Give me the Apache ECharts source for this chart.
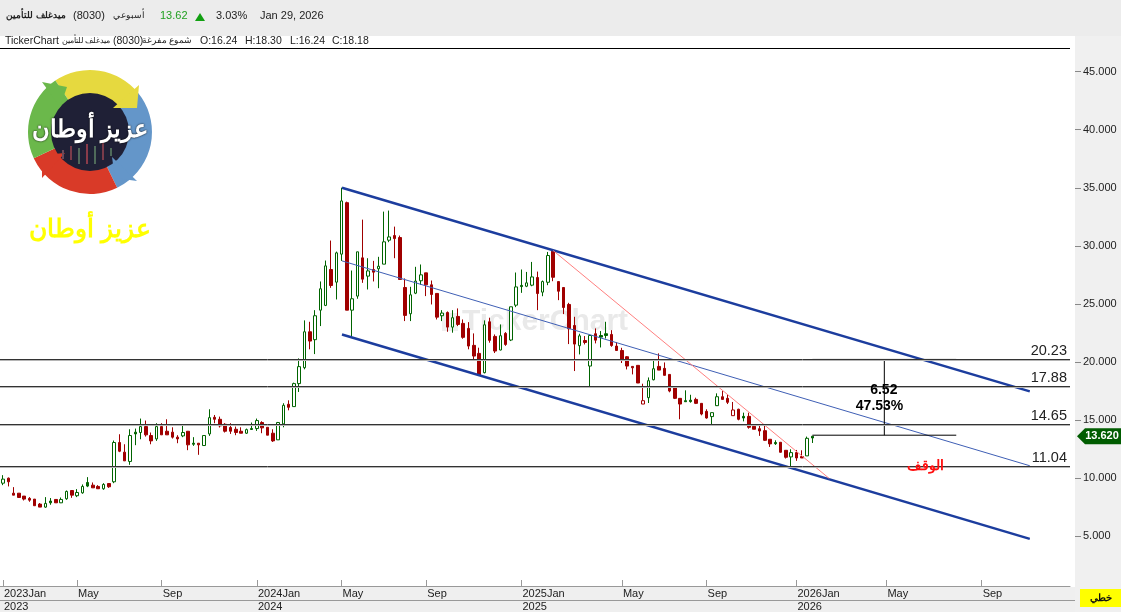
<!DOCTYPE html>
<html>
<head>
<meta charset="utf-8">
<title>8030</title>
<script src="https://cdn.jsdelivr.net/npm/echarts@6/dist/echarts.min.js"></script>
<style>
html,body{margin:0;padding:0;background:#fff;}
#chart{width:1121px;height:612px;}
</style>
</head>
<body>
<div id="chart"></div>
<script>
// weekly candles, one row per trading week: open, close, low, high
var ohlc = [
[9.58,9.93,9.41,10.27],[10.01,9.70,9.30,10.07],[8.72,8.55,8.55,9.24],[8.72,8.35,8.32,8.72],[8.47,8.21,8.09,8.47],
[8.27,8.12,7.98,8.38],[8.21,7.64,7.64,8.21],[7.78,7.52,7.52,7.87],[7.52,7.84,7.46,8.38],[8.04,7.89,7.72,8.30],
[8.18,7.89,7.89,8.18],[7.89,8.18,7.87,8.35],[8.24,8.87,8.15,8.95],[8.95,8.55,8.32,8.95],[8.50,8.78,8.38,9.07],
[8.75,9.30,8.67,9.47],[9.64,9.33,9.24,10.10],[9.41,9.18,9.18,9.64],[9.30,9.10,9.10,9.41],[9.10,9.47,9.01,9.58],
[9.55,9.27,9.18,9.55],[9.70,13.08,9.58,13.25],[13.08,12.33,12.25,13.79],[12.25,11.50,11.50,12.93],[11.45,13.68,11.16,14.22],
[13.97,13.82,12.85,14.28],[13.94,14.45,13.36,15.14],[14.45,13.74,13.59,14.97],[13.68,13.22,12.93,13.94],[13.39,14.45,13.22,14.74],
[14.45,13.74,13.74,14.74],[14.05,13.74,13.74,15.08],[13.97,13.54,13.42,14.39],[13.54,13.39,13.02,13.71],[13.65,13.94,13.54,14.65],
[14.05,12.88,12.42,14.05],[13.02,12.93,12.79,13.54],[13.02,12.88,12.02,13.02],[12.82,13.68,12.82,13.68],[13.82,15.22,13.65,15.94],
[15.25,15.08,14.74,15.45],[15.08,14.51,14.37,15.31],[14.65,14.05,13.94,14.74],[14.37,14.05,13.82,14.74],[14.22,13.94,13.71,14.45],
[14.05,13.88,13.88,14.39],[13.88,14.19,13.82,14.28],[14.28,14.20,14.17,14.80],[14.28,14.97,14.08,15.14],[14.80,14.34,13.88,14.91],
[14.39,13.71,13.71,14.39],[13.88,13.22,13.13,14.22],[13.31,14.80,13.31,14.85],[14.68,16.28,14.39,16.46],[16.37,16.11,15.85,16.71],
[16.17,18.15,16.17,18.23],[18.15,19.61,17.43,20.32],[19.52,22.61,19.38,23.59],[22.61,21.81,21.10,23.47],[21.93,23.99,20.69,24.47],
[24.47,26.31,23.10,26.94],[24.88,28.28,24.82,28.74],[27.97,26.59,26.39,30.46],[26.88,29.40,25.39,29.51],[29.29,33.87,28.71,35.01],
[33.72,24.47,24.47,33.81],[24.47,25.45,22.07,27.88],[25.68,29.49,25.45,29.49],[28.97,27.14,26.82,32.26],[27.40,27.85,26.25,28.94],
[27.97,27.74,26.94,28.71],[28.03,28.25,26.36,29.06],[28.43,30.35,28.43,32.95],[30.49,30.77,30.32,33.04],[30.89,30.63,28.94,31.66],
[30.72,27.11,27.11,30.89],[26.42,24.02,23.53,27.20],[24.16,25.79,23.53,26.48],[25.93,26.97,25.85,28.20],[27.00,27.51,26.65,28.40],
[27.68,26.65,25.68,27.68],[26.65,25.82,24.96,27.02],[25.91,23.87,23.67,25.91],[23.99,24.22,23.53,24.47],[24.27,23.01,22.61,24.36],
[23.01,23.82,22.53,24.47],[23.93,23.24,23.10,24.62],[23.33,22.13,22.01,23.67],[22.90,21.38,21.10,23.44],[21.44,20.52,20.24,22.47],
[20.75,18.89,18.89,21.24],[19.09,23.21,19.03,23.59],[23.47,21.87,21.67,23.82],[22.21,20.95,20.78,22.38],[21.04,22.27,21.01,23.24],
[22.47,21.52,21.40,22.58],[21.90,24.76,21.81,24.76],[24.90,26.47,24.73,27.71],[26.60,26.50,25.96,27.97],[26.53,26.82,26.45,27.76],
[26.62,27.33,26.53,28.62],[27.28,25.90,24.47,27.79],[26.02,26.93,25.67,27.02],[26.87,29.17,26.62,29.48],[29.54,27.30,26.96,29.60],
[26.93,26.10,25.33,26.93],[26.42,24.70,24.13,26.42],[24.96,22.87,21.55,25.10],[23.15,21.55,19.23,23.90],[21.41,22.26,20.66,22.44],
[21.86,21.69,21.52,22.24],[19.66,22.29,17.85,22.29],[22.44,21.89,21.61,22.90],[22.29,22.15,21.26,22.67],[22.44,22.29,22.03,23.47],
[22.38,21.43,21.32,22.75],[21.38,21.00,21.00,21.72],[21.00,20.23,19.92,21.23],[20.46,19.66,19.37,20.52],[19.63,19.51,18.94,19.63],
[19.72,18.20,18.20,19.72],[16.39,16.68,16.39,18.14],[16.94,18.40,16.48,18.68],[18.48,19.43,18.43,20.17],[19.63,19.31,19.31,20.75],
[19.46,18.86,18.86,19.97],[18.94,17.51,17.40,18.94],[17.77,16.88,16.82,17.94],[16.88,16.39,15.08,16.88],[16.68,16.59,16.57,17.57],
[16.72,16.60,16.51,17.19],[16.79,16.45,16.39,16.94],[16.45,15.53,15.42,16.45],[15.76,15.19,15.13,15.94],[15.31,15.65,14.65,15.65],
[16.25,17.02,16.22,17.31],[17.02,16.79,16.79,17.51],[16.88,16.54,16.39,17.22],[15.39,15.88,15.39,16.57],[15.94,15.08,14.99,15.99],
[15.33,15.19,14.90,15.65],[15.33,14.39,14.27,15.65],[14.47,14.22,14.22,14.65],[14.27,14.07,13.65,14.50],[14.10,13.27,13.21,14.50],
[13.36,12.96,12.70,13.36],[13.08,12.98,12.87,13.27],[13.10,12.24,12.21,13.10],[12.41,11.81,11.70,12.41],[11.84,12.21,10.98,12.50],
[12.21,11.75,11.50,12.44],[11.87,11.75,11.75,12.41],[11.93,13.44,11.93,13.59],[13.62,13.47,13.04,13.62]
];
var lastPrice = 13.62;

// axis ticks, x is the trading week number
var monthWeeks = [0,14,30,48,64,80,98,117,133,150,167,185];
var monthNames = ['2023Jan','May','Sep','2024Jan','May','Sep','2025Jan','May','Sep','2026Jan','May','Sep'];
var yearWeeks = [0,48,98,150];
var yearNames = ['2023','2024','2025','2026'];

// horizontal levels
var levels = [20.23,17.88,14.65,11.04];

// drawn lines, [week, price]
var channelUpper = [[64.08,35.0],[194.1,17.48]];
var channelMiddle = [[64.08,28.71],[194.1,11.08]];
var channelLower = [[64.08,22.38],[194.1,4.79]];
var redTrend = [[104.0,29.6],[156.2,9.98]];
var targetTop = [[153.0,20.23],[180.2,20.23]];
var targetBase = [[153.0,13.71],[180.2,13.71]];
var targetSpan = [[166.6,20.23],[166.6,13.71]];

var noteMove = [[166.5,17.57,'6.52'],[165.7,16.2,'47.53%']];
var noteStop = [[174.3,11.08,'الوقف']];

var GREEN = '#006400', RED = '#a00000', FONT = '"Liberation Sans",Arial,sans-serif';

// hollow when close > open, colour from close against previous close
var candles = ohlc.map(function(r,i){
	var rising = i === 0 || r[1] > ohlc[i-1][1];
	var col = rising ? GREEN : RED;
	var fill = r[1] > r[0] ? '#fff' : col;
	return {
		value:[i,r[0],r[1],r[2],r[3]],
		itemStyle:{color:fill,color0:fill,borderColor:col,borderColor0:col,borderWidth:1}
	};
});

function lineSeries(data,color,width){
	return {type:'line',data:data,showSymbol:false,symbol:'none',silent:true,z:4,
		lineStyle:{color:color,width:width}};
}
function noteSeries(data,color,size){
	return {type:'scatter',data:data,symbolSize:0,silent:true,z:6,itemStyle:{opacity:1},
		label:{show:true,position:'inside',color:color,fontSize:size,fontWeight:'bold',fontFamily:FONT,
			formatter:function(p){return p.value[2];}}};
}
function bandText(x,y,t,opt){
	var st = {x:x,y:y,text:t,fill:'#222',font:'11px '+FONT,textVerticalAlign:'middle'};
	for(var k in opt){st[k]=opt[k];}
	return {type:'text',z:12,silent:true,style:st};
}
function poly(points,fill){
	return {type:'polygon',z:8,silent:true,shape:{points:points},style:{fill:fill}};
}
function ring(a,b,fill){
	return {type:'sector',z:7,silent:true,
		shape:{cx:90,cy:132,r:62,r0:38,startAngle:a*Math.PI/180,endAngle:b*Math.PI/180},
		style:{fill:fill}};
}
function logoBar(x,y,h,fill){
	return {type:'rect',z:8,silent:true,shape:{x:x,y:y,width:2,height:h},style:{fill:fill}};
}

var chart = echarts.init(document.getElementById('chart'));
var option = {
	animation:false,
	backgroundColor:'#fff',
	grid:{left:0,right:51,top:13.5,bottom:16.5,containLabel:false},
	xAxis:[{
		type:'value',min:-0.567,max:201.7,position:'bottom',offset:-8.5,
		splitLine:{show:false},
		axisLine:{show:true,onZero:false,lineStyle:{color:'#999',width:1}},
		axisTick:{show:true,inside:true,length:6,lineStyle:{color:'#999'},customValues:monthWeeks},
		axisLabel:{show:true,align:'left',margin:2,padding:[0,0,0,1],color:'#222',fontSize:11,fontFamily:FONT,
			showMinLabel:true,showMaxLabel:true,hideOverlap:false,
			customValues:monthWeeks,
			formatter:function(v){return monthNames[monthWeeks.indexOf(v)];}}
	},{
		type:'value',min:-0.567,max:201.7,position:'bottom',offset:4.5,
		splitLine:{show:false},axisLine:{show:false,onZero:false},axisTick:{show:false},
		axisLabel:{show:true,align:'left',margin:2,padding:[0,0,0,1],color:'#222',fontSize:11,fontFamily:FONT,
			showMinLabel:true,showMaxLabel:true,hideOverlap:false,
			customValues:yearWeeks,
			formatter:function(v){return yearNames[yearWeeks.indexOf(v)];}}
	}],
	yAxis:{
		type:'value',min:0,max:50,interval:5,position:'right',offset:5,
		splitLine:{show:false},axisLine:{show:false,onZero:false},
		axisTick:{show:true,length:6,lineStyle:{color:'#888'}},
		axisLabel:{show:true,margin:8,color:'#222',fontSize:11,fontFamily:FONT,
			showMinLabel:false,showMaxLabel:false,
			formatter:function(v){return v.toFixed(3);}}
	},
	series:[
		{
			type:'candlestick',data:candles,barWidth:3,z:3,silent:true,
			markLine:{
				silent:true,symbol:'none',animation:false,precision:2,
				lineStyle:{color:'#333',width:1,type:'solid',shadowColor:'#b5b5b5',shadowBlur:0,shadowOffsetY:1},
				label:{show:true,position:'insideEndTop',distance:[3,1],color:'#222',fontSize:14.5,fontFamily:FONT,
					formatter:function(p){return p.value.toFixed(2);}},
				data:levels.map(function(v){return {yAxis:v};})
			}
		},
		lineSeries(channelUpper,'#1c3d9e',2.5),
		lineSeries(channelLower,'#1c3d9e',2.5),
		lineSeries(channelMiddle,'#3f5fb5',1),
		lineSeries(redTrend,'#ff8080',1),
		lineSeries(targetTop,'#000',1),
		lineSeries(targetBase,'#000',1),
		lineSeries(targetSpan,'#000',1),
		noteSeries(noteMove,'#000',14),
		noteSeries(noteStop,'#ff1010',14)
	],
	graphic:[
		// header and frame
		{type:'rect',z:1,silent:true,shape:{x:0,y:0,width:1121,height:36},style:{fill:'#ececec'}},
		{type:'rect',z:-10,silent:true,shape:{x:1075,y:36,width:46,height:576},style:{fill:'#f0f0f0'}},
		{type:'rect',z:1,silent:true,shape:{x:1075,y:587,width:46,height:25},style:{fill:'#f0f0f0'}},
		{type:'rect',z:-10,silent:true,shape:{x:0,y:587,width:1075,height:25},style:{fill:'#efefef'}},
		{type:'rect',z:-9,silent:true,shape:{x:0,y:600,width:1075,height:1},style:{fill:'#999'}},
		{type:'rect',z:-9,silent:true,shape:{x:0,y:48,width:1070,height:1},style:{fill:'#000'}},
		bandText(66,16,'ميدغلف للتأمين',{font:'bold 9px '+FONT,textAlign:'right'}),
		bandText(73,16,'(8030)'),
		bandText(145,16,'أسبوعي',{font:'9px '+FONT,textAlign:'right'}),
		bandText(160,16,'13.62',{fill:'#22a022'}),
		poly([[195,21],[205,21],[200,13]],'#12a012'),
		bandText(216,16,'3.03%'),
		bandText(260,16,'Jan 29, 2026'),
		bandText(5,41,'TickerChart',{font:'10.5px '+FONT}),
		bandText(110,41,'ميدغلف للتأمين',{font:'8px '+FONT,textAlign:'right'}),
		bandText(113,41,'(8030)',{font:'10.5px '+FONT}),
		bandText(192,41,'شموع مفرغة',{font:'8.5px '+FONT,textAlign:'right'}),
		bandText(200,41,'O:16.24',{font:'10.5px '+FONT}),
		bandText(245,41,'H:18.30',{font:'10.5px '+FONT}),
		bandText(290,41,'L:16.24',{font:'10.5px '+FONT}),
		bandText(332,41,'C:18.18',{font:'10.5px '+FONT}),
		// watermark
		{type:'rect',z:-5,silent:true,shape:{x:442,y:313,width:16,height:18},style:{fill:'#efefef'}},
		{type:'text',z:-5,silent:true,style:{x:545,y:322,text:'TickerChart',fill:'#e9e9e9',font:'bold 30px '+FONT,
			textAlign:'center',textVerticalAlign:'middle'}},
		// line type button
		{type:'rect',z:7,silent:true,shape:{x:1080,y:589,width:41,height:18},style:{fill:'#ffff00'}},
		bandText(1101,598,'خطي',{font:'bold 10px '+FONT,textAlign:'center',fill:'#111'}),
		// logo
		ring(-124,-39,'#e6d93f'),
		ring(-39,64,'#6496c9'),
		ring(64,155,'#d93a28'),
		ring(155,236,'#6bb84b'),
		poly([[139,85],[137,108],[113,108]],'#e6d93f'),
		poly([[112,157],[137,181],[115,178]],'#6496c9'),
		poly([[65,153],[42,178],[42,155]],'#d93a28'),
		poly([[42,82],[67,87],[60,107]],'#6bb84b'),
		{type:'circle',z:7,silent:true,shape:{cx:90,cy:132,r:39},style:{fill:'#1f2036'}},
		logoBar(62,150,9,'#6b4a5a'),logoBar(70,146,14,'#7a3b4a'),logoBar(78,148,16,'#4f6a5a'),
		logoBar(86,144,20,'#8a3b4a'),logoBar(94,146,18,'#4f6a5a'),logoBar(102,143,17,'#7a3b4a'),logoBar(110,148,8,'#4f6a5a'),
		{type:'text',z:9,silent:true,style:{x:90,y:130,text:'عزيز أوطان',fill:'#fff',font:'bold 24px '+FONT,
			textAlign:'center',textVerticalAlign:'middle',textShadowColor:'#000',textShadowBlur:2}},
		{type:'text',z:9,silent:true,style:{x:90,y:230,text:'عزيز أوطان',fill:'#ffff00',font:'bold 25px '+FONT,
			textAlign:'center',textVerticalAlign:'middle'}}
	]
};
chart.setOption(option);

// price tag follows the y scale
var tagY = chart.convertToPixel({yAxisIndex:0},lastPrice);
chart.setOption({graphic:option.graphic.concat([
	{type:'polygon',z:10,silent:true,shape:{points:[[1077,tagY],[1085,tagY-8],[1121,tagY-8],[1121,tagY+8],[1085,tagY+8]]},style:{fill:'#005c00'}},
	{type:'text',z:11,silent:true,style:{x:1102,y:tagY,text:lastPrice.toFixed(3),fill:'#fff',font:'bold 11px '+FONT,
		textAlign:'center',textVerticalAlign:'middle'}}
])});
</script>
</body>
</html>
